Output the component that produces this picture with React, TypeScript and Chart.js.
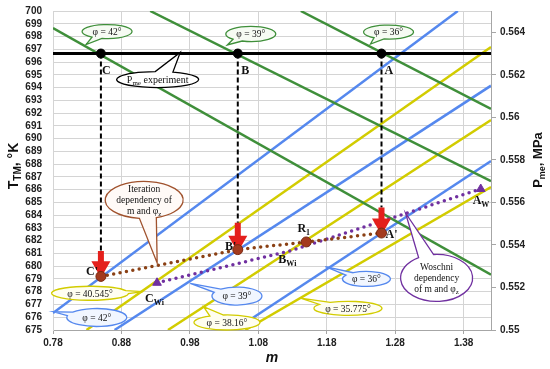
import React, { useEffect, useRef } from 'react';
import { Chart, registerables } from 'chart.js';

Chart.register(...registerables);

// ---- axis ticks ----
const mTicks = [0.78, 0.88, 0.98, 1.08, 1.18, 1.28, 1.38];
const tTicks = [675, 676, 677, 678, 679, 680, 681, 682, 683, 684, 685, 686, 687, 688, 689, 690, 691, 692, 693, 694, 695, 696, 697, 698, 699, 700];
const pTicks = [0.55, 0.552, 0.554, 0.556, 0.558, 0.56, 0.562, 0.564];

// ---- P_me lines (right axis), constant phi ----
const pmPhi42M = [0.78, 1.42];
const pmPhi42P = [0.5642, 0.5526];
const pmPhi39M = [0.922, 1.42];
const pmPhi39P = [0.565, 0.557];
const pmPhi36M = [1.142, 1.42];
const pmPhi36P = [0.565, 0.5604];
const pmExpM = [0.78, 1.42];
const pmExpP = [0.563, 0.563];
const pointLetters = ['C', 'B', 'A'];
const pointM = [0.85, 1.05, 1.26];

// ---- T lines (left axis), constant phi ----
const tPhi42M = [0.78, 1.3715];
const tPhi42T = [676.33, 700];
const tPhi40545M = [0.829, 1.42];
const tPhi40545T = [675, 697.18];
const tPhi39M = [0.87, 1.42];
const tPhi39T = [675, 694.15];
const tPhi3816M = [0.948, 1.42];
const tPhi3816T = [675, 691.46];
const tPhi36M = [1.045, 1.42];
const tPhi36T = [675, 688.24];
const tPhi35775M = [1.061, 1.42];
const tPhi35775T = [675, 686.21];

// ---- dependencies ----
const iterM = [0.85, 1.05, 1.15, 1.26];
const iterT = [679.2, 681.3, 681.9, 682.6];
const woschM = [0.932, 1.127, 1.405];
const woschT = [678.7, 681.2, 686.05];
const dropTopT = [681.2, 683.4, 684.6];
const dropHeadT = [679.95, 681.95, 683.3];
const expT = 696.67;

const GREEN = '#3f8f3a';
const BLUE = '#5588ee';
const YELLOW = '#d2cc00';
const BROWN = '#8a4014';
const PURPLE = '#7030a0';
const RED = '#e4201c';

type Part = { t: string; size: number; dy?: number; style?: string; weight?: string };

const callouts = [
  { lines: [[{ t: 'φ = 42°', size: 9.5 }]], m: 0.859, T: 698.39, rx: 25, ry: 7, tm: 0.8283, tT: 697.37, stroke: GREEN, fill: '#f6fbf3' },
  { lines: [[{ t: 'φ = 39°', size: 9.5 }]], m: 1.069, T: 698.2, rx: 25, ry: 7.5, tm: 1.0347, tT: 697.34, stroke: GREEN, fill: '#f6fbf3' },
  { lines: [[{ t: 'φ = 36°', size: 9.5 }]], m: 1.2703, T: 698.35, rx: 25, ry: 7, tm: 1.2439, tT: 697.41, stroke: GREEN, fill: '#f6fbf3' },
  { lines: [[{ t: 'P', size: 10 }, { t: 'me', size: 7, dy: 2 }, { t: ' experiment', size: 10 }]], m: 0.9329, T: 694.63, rx: 41, ry: 8, tm: 0.9659, tT: 696.75, stroke: '#000', fill: '#ffffff' },
  { lines: [[{ t: 'Iteration', size: 9.5 }], [{ t: 'dependency of', size: 9.5 }], [{ t: 'm and φ', size: 9.5 }, { t: 'z', size: 7, dy: 2 }]], m: 0.9132, T: 685.19, rx: 39, ry: 18.5, tm: 0.9322, tT: 680.25, stroke: '#a0522d', fill: '#fffaf7' },
  { lines: [[{ t: 'Woschni', size: 9.5 }], [{ t: 'dependency', size: 9.5 }], [{ t: 'of m and φ', size: 9.5 }, { t: 'z', size: 7, dy: 2 }]], m: 1.3405, T: 679.08, rx: 36, ry: 23.5, tm: 1.2951, tT: 684.17, stroke: PURPLE, fill: '#ffffff' },
  { lines: [[{ t: 'φ = 40.545°', size: 9.5 }]], m: 0.8341, T: 677.88, rx: 38.5, ry: 7, tm: 0.9117, tT: 678.0, stroke: YELLOW, fill: '#fffef0' },
  { lines: [[{ t: 'φ = 42°', size: 9.5 }]], m: 0.844, T: 675.98, rx: 30, ry: 9, tm: 0.7807, tT: 676.43, stroke: BLUE, fill: '#f1f6ff' },
  { lines: [[{ t: 'φ = 39°', size: 9.5 }]], m: 1.0488, T: 677.66, rx: 25, ry: 9, tm: 0.9805, tT: 678.66, stroke: BLUE, fill: '#f1f6ff' },
  { lines: [[{ t: 'φ = 38.16°', size: 9.5 }]], m: 1.0342, T: 675.59, rx: 33, ry: 7.5, tm: 1.0, tT: 676.83, stroke: YELLOW, fill: '#fffef0' },
  { lines: [[{ t: 'φ = 36°', size: 9.5 }]], m: 1.238, T: 679.0, rx: 24, ry: 7.5, tm: 1.178, tT: 679.96, stroke: BLUE, fill: '#f1f6ff' },
  { lines: [[{ t: 'φ = 35.775°', size: 9.5 }]], m: 1.211, T: 676.7, rx: 34, ry: 7, tm: 1.1416, tT: 677.49, stroke: YELLOW, fill: '#fffef0' },
];

const pointLabels = [
  { parts: [{ t: 'C', size: 12 }], m: 0.8517, T: 695.06, align: 'left' },
  { parts: [{ t: 'B', size: 12 }], m: 1.0551, T: 695.06, align: 'left' },
  { parts: [{ t: 'A', size: 12 }], m: 1.2644, T: 695.06, align: 'left' },
  { parts: [{ t: "C'", size: 12 }], m: 0.8459, T: 679.31, align: 'right' },
  { parts: [{ t: "B'", size: 12 }], m: 1.0478, T: 681.27, align: 'right' },
  { parts: [{ t: "A'", size: 12 }], m: 1.2659, T: 682.21, align: 'left' },
  { parts: [{ t: 'R', size: 12 }, { t: '1', size: 8, dy: 3 }], m: 1.1371, T: 682.68, align: 'left' },
  { parts: [{ t: 'B', size: 12 }, { t: 'Wi', size: 8, dy: 3 }], m: 1.1093, T: 680.25, align: 'left' },
  { parts: [{ t: 'C', size: 12 }, { t: 'Wi', size: 8, dy: 3 }], m: 0.9146, T: 677.19, align: 'left' },
  { parts: [{ t: 'A', size: 12 }, { t: 'W', size: 8, dy: 3 }], m: 1.3932, T: 684.87, align: 'left' },
];

const pts = (xs: number[], ys: number[]) => xs.map((x, i) => ({ x, y: ys[i] }));

function drawRich(ctx: CanvasRenderingContext2D, parts: Part[], x: number, y: number, family: string, weight: string, align: string, rot = 0, style = '') {
  ctx.save();
  ctx.translate(x, y);
  if (rot) ctx.rotate(rot);
  const widths = parts.map((p) => {
    ctx.font = `${p.style || style} ${p.weight || weight} ${p.size}px ${family}`;
    return ctx.measureText(p.t).width;
  });
  const total = widths.reduce((a, b) => a + b, 0);
  let cx = align === 'center' ? -total / 2 : align === 'right' ? -total : 0;
  ctx.textBaseline = 'alphabetic';
  ctx.textAlign = 'left';
  parts.forEach((p, i) => {
    ctx.font = `${p.style || style} ${p.weight || weight} ${p.size}px ${family}`;
    ctx.fillText(p.t, cx, p.dy || 0);
    cx += widths[i];
  });
  ctx.restore();
}

const annotationPlugin = {
  id: 'annot',
  afterDatasetsDraw(chart: any) {
    const ctx: CanvasRenderingContext2D = chart.ctx;
    const xs = chart.scales.x;
    const ys = chart.scales.y;
    ctx.save();
    pointLabels.forEach((l) => {
      ctx.fillStyle = '#111';
      drawRich(ctx, l.parts as Part[], xs.getPixelForValue(l.m), ys.getPixelForValue(l.T), '"Liberation Serif", serif', 'bold', l.align);
    });
    callouts.forEach((c) => {
      const cx = xs.getPixelForValue(c.m);
      const cy = ys.getPixelForValue(c.T);
      const tx = xs.getPixelForValue(c.tm);
      const ty = ys.getPixelForValue(c.tT);
      const t = Math.atan2((ty - cy) / c.ry, (tx - cx) / c.rx);
      const d = 0.22;
      ctx.beginPath();
      ctx.ellipse(cx, cy, c.rx, c.ry, 0, t + d, t - d + Math.PI * 2);
      ctx.lineTo(tx, ty);
      ctx.closePath();
      ctx.fillStyle = c.fill;
      ctx.fill();
      ctx.lineWidth = 1.3;
      ctx.strokeStyle = c.stroke;
      ctx.stroke();
      ctx.fillStyle = '#111';
      const lh = 11;
      const n = c.lines.length;
      c.lines.forEach((ln, i) => {
        const yy = cy + (i - (n - 1) / 2) * lh + 3.3;
        drawRich(ctx, ln as Part[], cx, yy, '"Liberation Serif", serif', 'normal', 'center');
      });
    });
    ctx.restore();
  },
  afterDraw(chart: any) {
    const ctx: CanvasRenderingContext2D = chart.ctx;
    const a = chart.chartArea;
    ctx.save();
    ctx.fillStyle = '#111';
    drawRich(ctx, [{ t: 'T', size: 14 }, { t: 'TM', size: 10, dy: 3 }, { t: ', °K', size: 14 }], 18, 166, '"Liberation Sans", Arial, sans-serif', 'bold', 'center', -Math.PI / 2);
    drawRich(ctx, [{ t: 'P', size: 13 }, { t: 'me', size: 9, dy: 3 }, { t: ', MPa', size: 13 }], 542, 160, '"Liberation Sans", Arial, sans-serif', 'bold', 'center', -Math.PI / 2);
    drawRich(ctx, [{ t: 'm', size: 14 }], (a.left + a.right) / 2, 362, '"Liberation Sans", Arial, sans-serif', 'bold', 'center', 0, 'italic');
    ctx.restore();
  },
};

function lineDS(data: any[], color: string, axis: string, order: number, width = 2.5, extra: any = {}) {
  return {
    data,
    showLine: true,
    borderColor: color,
    backgroundColor: color,
    borderWidth: width,
    pointRadius: 0,
    yAxisID: axis,
    order,
    ...extra,
  };
}

const tickFont = { family: '"Liberation Sans", Arial, sans-serif', size: 10, weight: 'bold' };

export default function App() {
  const ref = useRef<HTMLCanvasElement>(null);
  useEffect(() => {
    if (!ref.current) return;
    const datasets: any[] = [
      lineDS(pts(tPhi42M, tPhi42T), BLUE, 'y', 30),
      lineDS(pts(tPhi39M, tPhi39T), BLUE, 'y', 30),
      lineDS(pts(tPhi36M, tPhi36T), BLUE, 'y', 30),
      lineDS(pts(tPhi40545M, tPhi40545T), YELLOW, 'y', 30),
      lineDS(pts(tPhi3816M, tPhi3816T), YELLOW, 'y', 30),
      lineDS(pts(tPhi35775M, tPhi35775T), YELLOW, 'y', 30),
      lineDS(pts(pmPhi42M, pmPhi42P), GREEN, 'y1', 25),
      lineDS(pts(pmPhi39M, pmPhi39P), GREEN, 'y1', 25),
      lineDS(pts(pmPhi36M, pmPhi36P), GREEN, 'y1', 25),
      lineDS(pts(pmExpM, pmExpP), '#000', 'y1', 20, 3),
      ...pointM.map((m, i) =>
        lineDS(pts([m, m], [expT, dropTopT[i]]), '#000', 'y', 15, 2, { borderDash: [5, 3] })
      ),
      lineDS(pts(iterM, iterT), BROWN, 'y', 10, 3.5, { borderDash: [0, 6.5], borderCapStyle: 'round' }),
      lineDS(pts(woschM, woschT), PURPLE, 'y', 11, 3.5, { borderDash: [0, 6.5], borderCapStyle: 'round' }),
      ...pointM.map((m, i) =>
        lineDS(pts([m, m], [dropTopT[i], dropHeadT[i]]), RED, 'y', 6, 6, {
          borderCapStyle: 'butt',
          pointRadius: [0, 5],
          pointStyle: 'triangle',
          rotation: 180,
          pointBackgroundColor: RED,
          pointBorderColor: RED,
        })
      ),
      {
        data: pts(iterM, iterT),
        showLine: false,
        pointRadius: 5,
        pointBackgroundColor: '#a33a1e',
        pointBorderColor: '#7a2a12',
        pointBorderWidth: 1,
        yAxisID: 'y',
        order: 3,
      },
      {
        data: pts(woschM, woschT),
        showLine: false,
        pointRadius: [5, 0, 5],
        pointStyle: 'triangle',
        pointBackgroundColor: PURPLE,
        pointBorderColor: PURPLE,
        yAxisID: 'y',
        order: 3,
      },
      {
        data: pts(pointM, pointM.map(() => pmExpP[0])),
        showLine: false,
        pointRadius: 4.5,
        pointBackgroundColor: '#000',
        pointBorderColor: '#000',
        yAxisID: 'y1',
        order: 2,
      },
    ];
    const chart = new Chart(ref.current, {
      type: 'scatter',
      data: { datasets },
      plugins: [annotationPlugin],
      options: {
        animation: false,
        responsive: false,
        devicePixelRatio: 1,
        layout: { padding: { top: 11, left: 0, right: 0, bottom: 0 } },
        plugins: { legend: { display: false }, tooltip: { enabled: false } },
        scales: {
          x: {
            type: 'linear',
            min: 0.78,
            max: 1.42,
            afterBuildTicks: (s: any) => { s.ticks = mTicks.map((v) => ({ value: v })); },
            afterFit: (s: any) => { s.height = 39; },
            grid: { color: '#d4d4d4', tickLength: 4, tickColor: '#a6a6a6' },
            border: { color: '#a6a6a6' },
            ticks: { color: '#222', padding: 3, autoSkip: false, maxRotation: 0, font: tickFont, callback: (v: any) => Number(v).toFixed(2) },
          },
          y: {
            type: 'linear',
            position: 'left',
            min: 675,
            max: 700,
            afterBuildTicks: (s: any) => { s.ticks = tTicks.map((v) => ({ value: v })); },
            afterFit: (s: any) => { s.width = 53; },
            grid: { color: '#d4d4d4', drawTicks: true, tickLength: 8, tickColor: 'rgba(0,0,0,0)' },
            border: { color: '#d4d4d4' },
            ticks: { color: '#222', padding: 3, autoSkip: false, font: tickFont, callback: (v: any) => String(v) },
          },
          y1: {
            type: 'linear',
            position: 'right',
            min: 0.55,
            max: 0.565,
            afterBuildTicks: (s: any) => { s.ticks = pTicks.map((v) => ({ value: v })); },
            afterFit: (s: any) => { s.width = 59; },
            grid: { drawOnChartArea: false, tickLength: 5, color: '#a6a6a6' },
            border: { color: '#a6a6a6' },
            ticks: { color: '#222', padding: 4, autoSkip: false, font: tickFont, callback: (v: any) => String(parseFloat(Number(v).toFixed(3))) },
          },
        },
      } as any,
    });
    return () => chart.destroy();
  }, []);
  return (
    <div style={{ position: 'absolute', left: 0, top: 0, width: 550, height: 369, background: '#fff' }}>
      <canvas ref={ref} width={550} height={369} />
    </div>
  );
}
